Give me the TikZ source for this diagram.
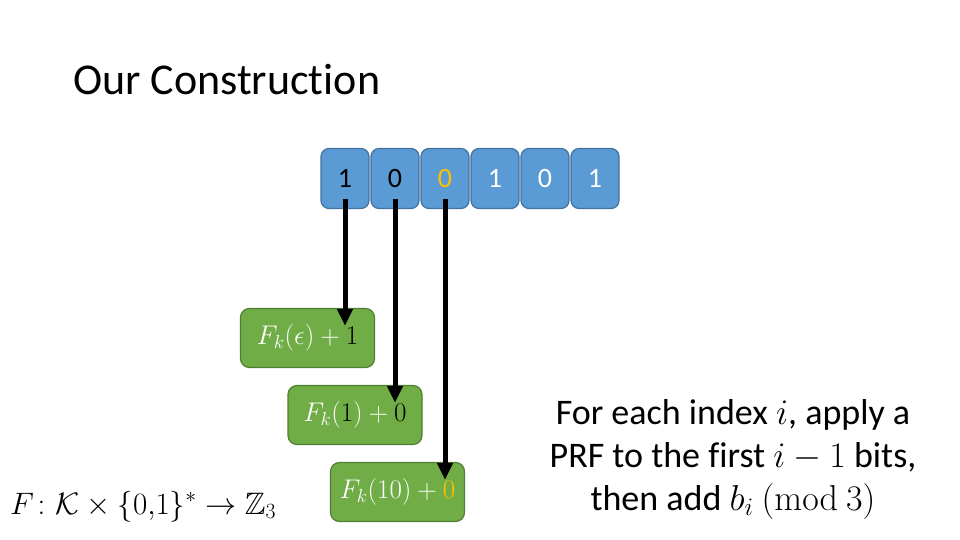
\RequirePackage{fix-cm}
\documentclass[tikz,border=0pt]{standalone}
\usepackage{amsmath}
\usepackage{amssymb}
\usepackage[no-math]{fontspec}
\setmainfont{Carlito}[Ligatures=NoCommon]
\usepackage{tikz}
\usetikzlibrary{arrows.meta, calc}

\definecolor{bitblue}{HTML}{5B9BD5}
\definecolor{bitedge}{HTML}{41719C}
\definecolor{prfgreen}{HTML}{70AD47}
\definecolor{prfedge}{HTML}{507E32}
\definecolor{gold}{HTML}{FFC000}

\begin{document}
\begin{tikzpicture}[x=1pt, y=-1pt,
    bit/.style={draw=bitedge, fill=bitblue, line width=1.2pt, rounded corners=8pt,
        minimum width=48pt, minimum height=60pt, font=\fontsize{28}{34}\selectfont},
    prfbox/.style={draw=prfedge, fill=prfgreen, line width=1.2pt, rounded corners=9pt,
        minimum width=134pt, minimum height=59pt, text=white, font=\fontsize{27}{32}\selectfont},
    bitarrow/.style={line width=5pt, -{Triangle[length=17pt, width=15pt]}}]
    \useasboundingbox (0,0) rectangle (960,540);

    % titel
    \node[anchor=base west, font=\fontsize{44}{52}\selectfont, inner sep=0pt] (title) at (73,95) {Our Construction};

    % bits
    \foreach \v/\c [count=\i] in {1/black, 0/black, 0/gold, 1/white, 0/white, 1/white} {
        \node[bit, text=\c] (b\i) at (295+\i*50, 178.5) {\v};
    }

    % PRF boxes
    \node[prfbox] (f1) at (307.5,338) {$F_k(\epsilon)+\textcolor{black}{1}$};
    \node[prfbox] (f2) at (355,415) {$F_k(\textcolor{black}{1})+\textcolor{black}{0}$};
    \node[prfbox] (f3) at (397.5,492) {$F_k(10)+\textcolor{gold}{0}$};

    % arrows
    \foreach \i in {1,2,3} {
        \draw[bitarrow] ([yshift=-20pt]b\i.center) -- ([yshift=-18pt]b\i.center |- f\i.north);
    }

    % definition
    \node[anchor=base west, inner sep=0pt, font=\fontsize{31}{37}\selectfont] (def) at (10,514)
        {$F\colon \mathcal{K}\times\{0{,}1\}^*\to\mathbb{Z}_3$};

    % explanation
    \node[align=center, font=\fontsize{36}{43}\selectfont] (note) at (733,459)
        {For each index $i$, apply a\\PRF to the first $i-1$ bits,\\then add $b_i$ $(\mathrm{mod}\ 3)$};
\end{tikzpicture}
\end{document}
